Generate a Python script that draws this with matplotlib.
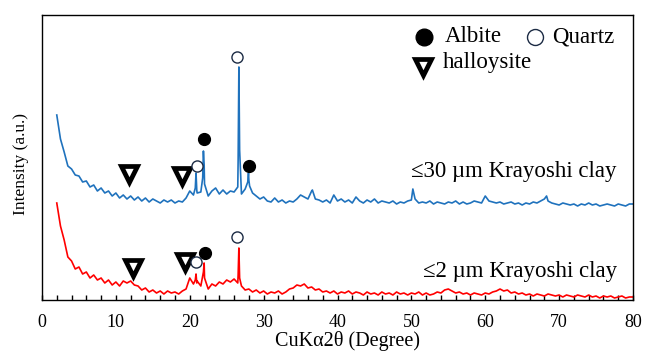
"""XRD patterns of Krayoshi clay fractions (<=30 um and <=2 um)."""

import matplotlib

matplotlib.use("Agg")
import matplotlib.pyplot as plt
import numpy as np
from matplotlib.ticker import MultipleLocator

plt.rcParams["font.family"] = ["Liberation Serif", "DejaVu Serif"]

# scan grid, 2-80 deg in 0.5 deg steps
scan_start, scan_stop, scan_step = 2.0, 80.0, 0.5

# <=30 um fraction, base scan (one value per grid point)
coarse_base = [
    185, 161, 148, 134, 131, 125, 124, 118, 119, 113,
    115, 109, 112, 107, 109, 104, 107, 102, 105, 101,
    104, 100, 103, 99, 102, 98, 101, 99, 97, 100,
    98, 100, 97, 99, 98, 102, 109, 105, 107, 108,
    116, 104, 109, 112, 106, 110, 106, 109, 108, 113,
    106, 111, 120, 107, 104, 101, 103, 99, 98, 102,
    98, 100, 97, 99, 98, 101, 105, 103, 101, 109,
    101, 100, 98, 100, 97, 105, 99, 101, 98, 100,
    97, 103, 99, 97, 100, 98, 101, 97, 99, 98,
    97, 99, 96, 98, 97, 99, 100, 101, 97, 98,
    97, 99, 96, 98, 97, 96, 98, 97, 99, 96,
    98, 96, 97, 99, 98, 97, 104, 99, 98, 97,
    98, 96, 97, 98, 96, 97, 95, 97, 96, 98,
    97, 99, 101, 99, 97, 96, 95, 97, 96, 95,
    96, 94, 96, 95, 97, 95, 96, 94, 95, 96,
    95, 94, 96, 95, 94, 96, 96,
]
# sharp reflections of the <=30 um fraction (2theta, intensity)
coarse_peak_theta = [20.75, 20.85, 20.95, 21.75, 21.85, 21.95, 26.55, 26.65, 26.75,
                     27.85, 27.95, 28.1, 36.6, 50.2, 68.3]
coarse_peak_int = [112, 127, 110, 122, 149, 135, 140, 233, 150,
                   118, 127, 114, 110, 111, 104]

# <=2 um fraction, base scan
fine_base = [
    97, 74, 60, 43, 39, 31, 33, 26, 28, 22,
    25, 20, 22, 17, 20, 15, 18, 14, 19, 17,
    19, 15, 14, 10, 12, 8, 10, 7, 9, 6,
    9, 7, 8, 6, 9, 11, 22, 16, 19, 14,
    22, 11, 16, 14, 18, 16, 20, 18, 21, 17,
    14, 10, 11, 8, 10, 7, 9, 6, 8, 7,
    9, 6, 8, 11, 12, 15, 14, 16, 12, 13,
    10, 11, 8, 9, 7, 9, 6, 8, 7, 9,
    6, 8, 7, 5, 8, 6, 7, 5, 8, 6,
    7, 5, 8, 6, 7, 5, 7, 6, 8, 5,
    7, 5, 6, 8, 7, 10, 11, 9, 7, 8,
    6, 7, 5, 7, 6, 5, 7, 6, 8, 9,
    11, 9, 10, 7, 8, 6, 7, 5, 6, 4,
    6, 5, 4, 6, 5, 4, 5, 3, 5, 4,
    3, 5, 4, 3, 5, 3, 4, 2, 4, 3,
    4, 2, 3, 4, 2, 3, 3,
]
fine_peak_theta = [20.75, 20.85, 20.95, 21.85, 21.95, 26.55, 26.65, 26.75]
fine_peak_int = [20, 26, 17, 28, 37, 25, 52, 22]

# phase markers (2theta, height on the plot)
albite_theta = [21.93, 28.02, 22.07]
albite_y = [161, 134, 47]
quartz_theta = [26.4, 20.98, 26.4, 20.85]
quartz_y = [243, 134, 63, 38]
halloysite_theta = [11.78, 18.95, 12.32, 19.36]
halloysite_y = [126, 124, 32, 38]

sample_labels = ["\u226430 \u00b5m Krayoshi clay", "\u22642 \u00b5m Krayoshi clay"]
label_y = [128, 28]

BLUE = "#1f72bd"
RED = "#ff0000"


def merge_scan(base, peak_theta, peak_int):
    theta = np.arange(scan_start, scan_stop + scan_step / 2, scan_step)
    x = np.concatenate([theta, peak_theta])
    y = np.concatenate([np.asarray(base, float), peak_int])
    order = np.argsort(x, kind="stable")
    return x[order], y[order]


fig = plt.figure(figsize=(6.46, 3.53), dpi=100)
ax = fig.add_axes([42 / 646, 53 / 353, 591 / 646, 285 / 353])

x, y = merge_scan(coarse_base, coarse_peak_theta, coarse_peak_int)
ax.plot(x, y, color=BLUE, lw=1.2)
x, y = merge_scan(fine_base, fine_peak_theta, fine_peak_int)
ax.plot(x, y, color=RED, lw=1.2)

tri = dict(marker="v", ls="none", ms=11.5, mfc="white", mec="black", mew=3.4)
dot = dict(marker="o", ls="none", ms=8.5, mfc="black", mec="black")
ring = dict(marker="o", ls="none", ms=8, mfc="white", mec="#1c2b44", mew=1.0)
ax.plot(halloysite_theta, halloysite_y, **tri)
ax.plot(albite_theta, albite_y, **dot)
ax.plot(quartz_theta, quartz_y, **ring)

for text, ypos in zip(sample_labels, label_y):
    ax.text(77.8, ypos, text, ha="right", va="center", fontsize=16.5)

# legend drawn by hand (two entries on the first row)
ax.plot([0.646], [0.923], transform=ax.transAxes, **{**dot, "ms": 12})
ax.text(0.682, 0.923, "Albite", transform=ax.transAxes, va="center", fontsize=16.5)
ax.plot([0.834], [0.923], transform=ax.transAxes, **{**ring, "ms": 11.5})
ax.text(0.863, 0.923, "Quartz", transform=ax.transAxes, va="center", fontsize=16.5)
ax.plot([0.645], [0.818], transform=ax.transAxes, **{**tri, "ms": 12})
ax.text(0.678, 0.835, "halloysite", transform=ax.transAxes, va="center", fontsize=16.5)

ax.set_xlim(0, 80)
ax.set_ylim(0, 285)
ax.xaxis.set_major_locator(MultipleLocator(10))
ax.xaxis.set_minor_locator(MultipleLocator(2))
ax.tick_params(axis="x", which="both", direction="in", length=3.5, width=1.0,
               labelsize=13, pad=10)
ax.set_yticks([])
for spine in ax.spines.values():
    spine.set_linewidth(1.0)

fig.text(21.5 / 646, 1 - 164 / 353, "Intensity (a.u.)", rotation=90,
         ha="center", va="center", fontsize=12.5)
fig.text(347.5 / 646, 2 / 353, "CuK\u03b12\u03b8 (Degree)", ha="center", va="bottom",
         fontsize=14.5)

fig.savefig("out.png", dpi=100)
